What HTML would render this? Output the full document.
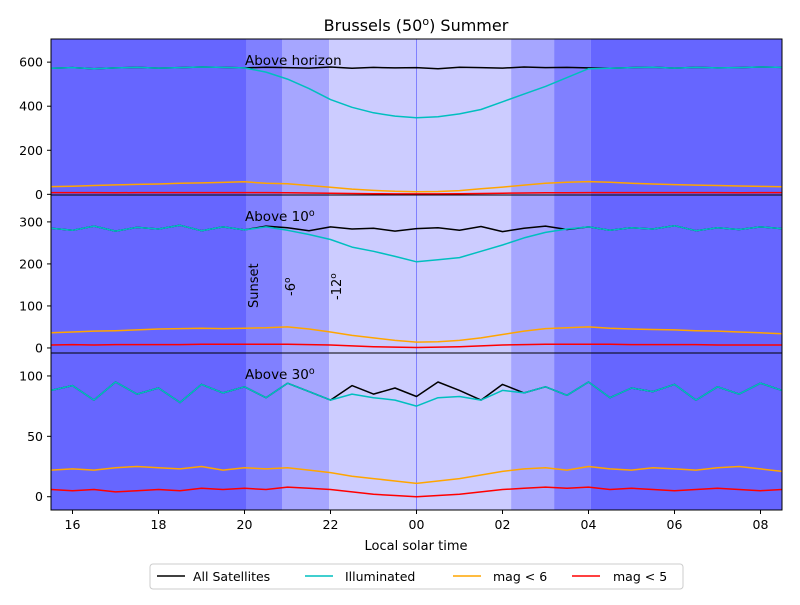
<!DOCTYPE html>
<html><head><meta charset="utf-8"><style>
body{margin:0;background:#fff;font-family:"Liberation Sans","DejaVu Sans",sans-serif;}
svg text{font-family:"DejaVu Sans","Liberation Sans",sans-serif;}
</style></head><body>
<svg id="chart" width="800" height="600" xmlns="http://www.w3.org/2000/svg"></svg>
<script>
const times = [15.5,16,16.5,17,17.5,18,18.5,19,19.5,20,20.5,21,21.5,22,22.5,23,23.5,24,24.5,25,25.5,26,26.5,27,27.5,28,28.5,29,29.5,30,30.5,31,31.5,32,32.5];
const xTicks = [16,18,20,22,24,26,28,30,32];
const xTickLabels = ["16","18","20","22","00","02","04","06","08"];
const bandEdges = [20.05,20.88,21.97,26.2,27.2,28.05];
const all1 = [572,575,570,574,576,573,575,578,576,574,577,575,573,578,572,576,574,575,570,577,575,573,578,575,576,574,572,575,577,573,576,574,575,578,576];
const ill1 = [572,575,570,574,576,573,575,578,576,574,555,523,480,430,395,370,355,348,352,365,385,420,455,490,530,570,572,575,577,573,576,574,575,578,576];
const or1 = [35,37,40,43,45,47,50,52,54,57,50,48,40,32,24,18,14,12,13,17,25,33,42,50,55,58,55,50,47,44,42,40,38,36,34];
const red1 = [8,8,8,7,8,8,8,8,8,8,8,7,6,5,4,3,2,2,2,3,4,5,6,7,7,8,8,8,8,8,8,8,7,8,8];
const all2 = [285,280,290,278,287,283,292,279,288,281,290,286,279,288,283,285,278,284,286,280,289,277,285,290,282,288,280,286,283,291,279,286,282,288,284];
const ill2 = [285,280,290,278,287,283,292,279,288,281,288,280,270,258,240,230,218,205,210,215,230,245,262,275,283,288,280,286,283,291,279,286,282,288,284];
const or2 = [36,38,40,41,43,45,46,47,46,47,48,50,45,38,30,24,18,14,15,18,24,32,40,46,48,50,47,45,44,43,41,40,38,36,34];
const red2 = [7,8,7,8,8,8,8,9,9,9,9,9,8,7,5,3,2,1,2,3,5,7,8,9,9,9,9,8,8,8,8,7,7,7,7];
const all3 = [88,92,80,95,85,90,78,93,86,91,82,94,87,80,92,85,90,83,95,88,80,93,86,91,84,95,82,90,87,93,80,91,85,94,88];
const ill3 = [88,92,80,95,85,90,78,93,86,91,82,94,87,80,85,82,80,75,82,83,80,88,86,91,84,95,82,90,87,93,80,91,85,94,88];
const or3 = [22,23,22,24,25,24,23,25,22,24,23,24,22,20,17,15,13,11,13,15,18,21,23,24,22,25,23,22,24,23,22,24,25,23,21];
const red3 = [6,5,6,4,5,6,5,7,6,7,6,8,7,6,4,2,1,0,1,2,4,6,7,8,7,8,6,7,6,5,6,7,6,5,6];
const ticks1 = [0,200,400,600];
const ticks2 = [0,100,200,300];
const ticks3 = [0,50,100];

const NS="http://www.w3.org/2000/svg";
const svg=document.getElementById('chart');
function mk(tag,attrs,parent){const e=document.createElementNS(NS,tag);for(const k in attrs)e.setAttribute(k,attrs[k]);(parent||svg).appendChild(e);return e;}
const L=51,R=782,XMIN=15.5,XMAX=32.5;
function xs(t){return L+(t-XMIN)/(XMAX-XMIN)*(R-L);}
const panels=[
 {top:39,bot:195,ymin:-3,ymax:705,ticks:ticks1,series:[all1,ill1,or1,red1],label:"Above horizon",sup:""},
 {top:195,bot:353,ymin:-12,ymax:364,ticks:ticks2,series:[all2,ill2,or2,red2],label:"Above 10",sup:"o"},
 {top:353,bot:510,ymin:-11,ymax:119,ticks:ticks3,series:[all3,ill3,or3,red3],label:"Above 30",sup:"o"}
];
const colors=["#000000","#17becf","#ffa500","#ff0000"];
const colorsFix=["#000000","#00bfbf","#ffa500","#ff0000"];
const sNames=["all-satellites-line","illuminated-line","mag6-line","mag5-line"];
const bandColors=["#6666ff","#8080ff","#a6a6ff","#ccccff","#a6a6ff","#8080ff","#6666ff"];
panels.forEach((p,pi)=>{
 const g=mk('g',{});
 
 
 const ys=v=>p.bot-(v-p.ymin)/(p.ymax-p.ymin)*(p.bot-p.top);
 const edges=[XMIN].concat(bandEdges).concat([XMAX]);
 for(let i=0;i<edges.length-1;i++){
  const r=mk('rect',{x:xs(edges[i]),y:p.top,width:xs(edges[i+1])-xs(edges[i]),height:p.bot-p.top,fill:bandColors[i]},g);
  
  
 }
 const ml=mk('line',{x1:xs(24),x2:xs(24),y1:p.top,y2:p.bot,stroke:"#8080ff","stroke-width":1},g);
 
 
 p.series.forEach((s,si)=>{
  const d=s.map((v,i)=>(i?'L':'M')+xs(times[i]).toFixed(1)+','+ys(v).toFixed(1)).join('');
  const path=mk('path',{d:d,fill:'none',stroke:colorsFix[si],'stroke-width':1.5,'stroke-linejoin':'round'},g);
  
  
 });
 const fr=mk('rect',{x:L,y:p.top,width:R-L,height:p.bot-p.top,fill:'none',stroke:'#000','stroke-width':1},g);
 
 
 p.ticks.forEach(v=>{
  const y=ys(v);
  mk('line',{x1:L-4,x2:L,y1:y,y2:y,stroke:'#000'},g);
  const t=mk('text',{x:L-8,y:y+4.5,'text-anchor':'end','font-size':12.5,fill:'#000'},g);
  t.textContent=v;
  
  
 });
 const lab=mk('text',{x:245,y:p.top+26,'font-size':13.5,fill:'#000'},g);
 lab.textContent=p.label;
 if(p.sup){const ts=mk('tspan',{dy:-5,'font-size':9.5},lab);ts.textContent=p.sup;}
 
 
});
xTicks.forEach((t,i)=>{
 const x=xs(t);
 mk('line',{x1:x,x2:x,y1:510,y2:514,stroke:'#000'});
 const tx=mk('text',{x:x,y:529,'text-anchor':'middle','font-size':12.5,fill:'#000'});
 tx.textContent=xTickLabels[i];
 
 
});
</script>
<svg width="800" height="600" style="position:absolute;left:0;top:0" xmlns="http://www.w3.org/2000/svg">
<text x="416" y="31" text-anchor="middle" font-size="16" fill="#000">Brussels (50<tspan dy="-6" font-size="11">o</tspan><tspan dy="6">) Summer</tspan></text>
<text transform="translate(258,308) rotate(-90)" font-size="13" fill="#000">Sunset</text>
<text transform="translate(295,296) rotate(-90)" font-size="13" fill="#000">-6<tspan dy="-5" font-size="9">o</tspan></text>
<text transform="translate(341,300) rotate(-90)" font-size="13" fill="#000">-12<tspan dy="-5" font-size="9">o</tspan></text>
<text x="416" y="550" text-anchor="middle" font-size="13" fill="#000">Local solar time</text>
<g>
<rect x="150" y="564" width="533" height="25" rx="3" fill="#fff" stroke="#ccc"/>
<g><line x1="157" x2="185" y1="576" y2="576" stroke="#000" stroke-width="1.5"/><text x="193" y="581" font-size="12.5">All Satellites</text></g>
<g><line x1="305" x2="333" y1="576" y2="576" stroke="#00bfbf" stroke-width="1.5"/><text x="345" y="581" font-size="12.5">Illuminated</text></g>
<g><line x1="453" x2="481" y1="576" y2="576" stroke="#ffa500" stroke-width="1.5"/><text x="493" y="581" font-size="12.5">mag &lt; 6</text></g>
<g><line x1="572" x2="600" y1="576" y2="576" stroke="#ff0000" stroke-width="1.5"/><text x="613" y="581" font-size="12.5">mag &lt; 5</text></g>
</g>
</svg>
</body></html>
